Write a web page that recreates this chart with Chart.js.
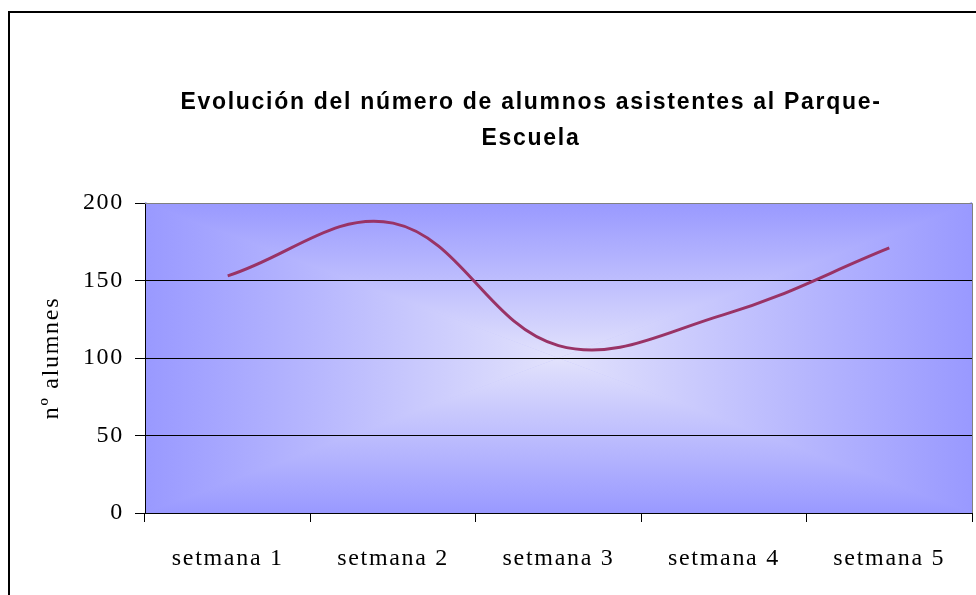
<!DOCTYPE html>
<html lang="es">
<head>
<meta charset="UTF-8">
<title>Evolución del número de alumnos</title>
<script src="https://cdn.jsdelivr.net/npm/chart.js@4.4.0/dist/chart.umd.min.js"></script>
<style>
	body { margin: 0; overflow: hidden; background: #fff; }
	#wrap { position: absolute; left: 8px; top: 11px; width: 1042px; height: 620px; border: 2px solid #000; }
</style>
</head>
<body>
	<div id="wrap">
		<canvas id="chart" width="1042" height="620"></canvas>
	</div>

	<script>
		// data
		var weeks = ['setmana 1', 'setmana 2', 'setmana 3', 'setmana 4', 'setmana 5'];
		var alumnes = [153, 187, 108, 128, 171];
		var titleLines = ['Evolución del número de alumnos asistentes al Parque-', 'Escuela'];
		var yTitle = 'nº alumnes';
		var yMin = 0, yMax = 200, yStep = 50;

		var serif = '"Liberation Serif", "Times New Roman", serif';
		var sans = '"Liberation Sans", Arial, sans-serif';

		// Excel-like wider text
		var spacing = {
			id : 'spacing',
			beforeUpdate : function(chart) { chart.ctx.letterSpacing = '1.7px'; },
			beforeDraw : function(chart) { chart.ctx.letterSpacing = '1.7px'; }
		};

		// "from center" gradient fill of the plot area
		var plotBg = {
			id : 'plotBg',
			beforeDraw : function(chart) {
				var a = chart.chartArea, c = chart.ctx;
				var cx = (a.left + a.right) / 2, cy = (a.top + a.bottom) / 2;
				var edge = '#9999ff', mid = '#e2e2fc';
				c.save();
				c.fillStyle = '#bdbdfd';
				c.fillRect(a.left, a.top, a.right - a.left, a.bottom - a.top);
				function tri(p, g) {
					g.addColorStop(0, edge);
					g.addColorStop(1, mid);
					c.fillStyle = g;
					c.beginPath();
					c.moveTo(p[0], p[1]);
					c.lineTo(p[2], p[3]);
					c.lineTo(cx, cy);
					c.closePath();
					c.fill();
				}
				tri([a.left - 1, a.top, a.right + 1, a.top], c.createLinearGradient(0, a.top, 0, cy));
				tri([a.left - 1, a.bottom, a.right + 1, a.bottom], c.createLinearGradient(0, a.bottom, 0, cy));
				tri([a.left, a.top - 1, a.left, a.bottom + 1], c.createLinearGradient(a.left, 0, cx, 0));
				tri([a.right, a.top - 1, a.right, a.bottom + 1], c.createLinearGradient(a.right, 0, cx, 0));
				c.restore();
			},
			beforeDatasetsDraw : function(chart) {
				var a = chart.chartArea, c = chart.ctx;
				c.save();
				c.strokeStyle = '#808080';
				c.lineWidth = 1;
				c.beginPath();
				c.moveTo(a.left, a.top + 0.5);
				c.lineTo(a.right + 0.5, a.top + 0.5);
				c.lineTo(a.right + 0.5, a.bottom);
				c.stroke();
				c.restore();
			}
		};

		var chart = new Chart(document.getElementById('chart').getContext('2d'), {
			type : 'line',
			data : {
				labels : weeks,
				datasets : [ {
					label : yTitle,
					data : alumnes,
					borderColor : '#993366',
					borderWidth : 3,
					pointRadius : 0,
					tension : 0.38,
					fill : false
				} ]
			},
			options : {
				responsive : false,
				animation : false,
				layout : { padding : 0 },
				plugins : {
					legend : { display : false },
					tooltip : { enabled : false },
					title : {
						display : true,
						text : titleLines,
						color : '#000',
						font : { family : sans, size : 23, weight : 'bold', lineHeight : 36 / 23 },
						padding : { top : 72, bottom : 46 }
					}
				},
				scales : {
					x : {
						offset : true,
						afterFit : function(s) { s.height = 120; },
						grid : { offset : true, drawOnChartArea : false, tickLength : 9, color : '#000' },
						border : { color : '#000', width : 1 },
						ticks : { color : '#000', padding : 22, maxRotation : 0, font : { family : serif, size : 24 } }
					},
					y : {
						min : yMin,
						max : yMax,
						afterFit : function(s) { s.width = 135; },
						grid : {
							color : function(ctx) { return ctx.tick && ctx.tick.value === yMax ? '#808080' : '#000'; },
							tickColor : '#000',
							tickLength : 10
						},
						border : { color : '#000', width : 1 },
						ticks : { stepSize : yStep, color : '#000', padding : 11, font : { family : serif, size : 24 } },
						title : {
							display : true,
							text : yTitle,
							color : '#000',
							padding : { top : 27, bottom : 0 },
							font : { family : serif, size : 24 }
						}
					},
					// empty strip on the right of the plot (chart frame runs past the picture)
					side : {
						position : 'right',
						min : yMin,
						max : yMax,
						afterFit : function(s) { s.width = 80; },
						grid : { display : false },
						border : { display : false },
						ticks : { display : false }
					}
				}
			},
			plugins : [ spacing, plotBg ]
		});
	</script>
</body>
</html>
